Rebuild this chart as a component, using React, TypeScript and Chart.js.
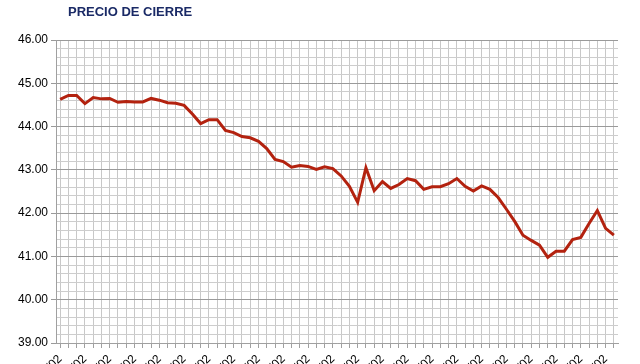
import React, { useEffect, useRef } from "react";
import { Chart, registerables } from "chart.js";

Chart.register(...registerables);

const dates: string[] = [
  "01/07/02", "02/07/02", "03/07/02", "04/07/02", "05/07/02",
  "08/07/02", "09/07/02", "10/07/02", "11/07/02", "12/07/02",
  "15/07/02", "16/07/02", "17/07/02", "18/07/02", "19/07/02",
  "22/07/02", "23/07/02", "24/07/02", "25/07/02", "26/07/02",
  "29/07/02", "30/07/02", "31/07/02", "01/08/02", "02/08/02",
  "05/08/02", "06/08/02", "07/08/02", "08/08/02", "09/08/02",
  "12/08/02", "13/08/02", "14/08/02", "15/08/02", "16/08/02",
  "19/08/02", "20/08/02", "21/08/02", "22/08/02", "23/08/02",
  "26/08/02", "27/08/02", "28/08/02", "29/08/02", "30/08/02",
  "02/09/02", "03/09/02", "04/09/02", "05/09/02", "06/09/02",
  "09/09/02", "10/09/02", "11/09/02", "12/09/02", "13/09/02",
  "16/09/02", "17/09/02", "18/09/02", "19/09/02", "20/09/02",
  "23/09/02", "24/09/02", "25/09/02", "26/09/02", "27/09/02",
  "30/09/02", "01/10/02", "02/10/02",
];

const closePrices: number[] = [
  44.63, 44.72, 44.72, 44.53, 44.67, 44.64, 44.65, 44.56, 44.58, 44.57,
  44.57, 44.65, 44.61, 44.55, 44.54, 44.49, 44.29, 44.07, 44.16, 44.16,
  43.91, 43.86, 43.77, 43.74, 43.66, 43.49, 43.24, 43.19, 43.06, 43.10,
  43.08, 43.01, 43.07, 43.03, 42.86, 42.62, 42.25, 43.05, 42.52, 42.73,
  42.57, 42.66, 42.80, 42.75, 42.55, 42.61, 42.61, 42.68, 42.80, 42.62,
  42.51, 42.63, 42.55, 42.36, 42.09, 41.81, 41.49, 41.37, 41.26, 40.98,
  41.12, 41.12, 41.39, 41.44, 41.76, 42.06, 41.65, 41.49,
];

const yMin = 39;
const yMax = 46;
const yMinorStep = 0.2;
const labelEvery = 3;
const titleText = "PRECIO DE CIERRE";

const FONT = "'Liberation Sans', Arial, sans-serif";
const CANVAS_W = 640;
const CANVAS_H = 410;

export default function App() {
  const ref = useRef<HTMLCanvasElement | null>(null);

  useEffect(() => {
    document.body.style.margin = "0";
    if (!ref.current) return;
    const isMajor = (v: number) => Math.abs(v - Math.round(v)) < 1e-6;
    const chart = new Chart(ref.current, {
      type: "line",
      data: {
        labels: dates,
        datasets: [
          {
            data: closePrices,
            borderColor: "#B3220F",
            borderWidth: 3,
            pointRadius: 0,
            tension: 0,
            fill: false,
          },
        ],
      },
      options: {
        responsive: false,
        animation: false,
        layout: { padding: { top: 40, right: 22, left: 0, bottom: 0 } },
        plugins: {
          legend: { display: false },
          title: { display: false },
          tooltip: { enabled: false },
        },
        scales: {
          x: {
            type: "category",
            offset: true,
            afterFit: (scale: any) => {
              scale.height = CANVAS_H - 343;
            },
            grid: {
              color: "#c8c8c8",
              lineWidth: 1,
              tickLength: 5,
              tickColor: "#a0a0a0",
              offset: false,
            },
            border: { color: "#a0a0a0" },
            ticks: {
              autoSkip: false,
              maxRotation: 45,
              minRotation: 45,
              color: "#000",
              font: { family: FONT, size: 12 },
              padding: 4,
              callback: (_v: any, i: number) => (i % labelEvery === 0 ? dates[i] : ""),
            },
          },
          y: {
            min: yMin,
            max: yMax,
            afterFit: (scale: any) => {
              scale.width = 56;
            },
            grid: {
              color: (ctx: any) => (isMajor(ctx.tick?.value ?? 0) ? "#9a9a9a" : "#cdcdcd"),
              lineWidth: 1,
              tickLength: 5,
              tickColor: (ctx: any) => (isMajor(ctx.tick?.value ?? 0) ? "#9a9a9a" : "rgba(0,0,0,0)"),
            },
            border: { color: "#a0a0a0" },
            ticks: {
              stepSize: yMinorStep,
              autoSkip: false,
              color: "#000",
              padding: 3,
              font: { family: FONT, size: 12 },
              callback: (v: any) => (isMajor(Number(v)) ? Number(v).toFixed(2) : ""),
            },
          },
        },
      },
    });
    return () => chart.destroy();
  }, []);

  return (
    <div style={{ position: "relative", width: CANVAS_W, height: 364, overflow: "hidden", background: "#fff" }}>
      <div
        style={{
          position: "absolute",
          left: 68,
          top: 4,
          fontFamily: FONT,
          fontWeight: "bold",
          fontSize: 13,
          color: "#1A2A66",
          lineHeight: "15px",
          whiteSpace: "nowrap",
        }}
      >
        {titleText}
      </div>
      <canvas ref={ref} width={CANVAS_W} height={CANVAS_H} style={{ display: "block" }} />
    </div>
  );
}
